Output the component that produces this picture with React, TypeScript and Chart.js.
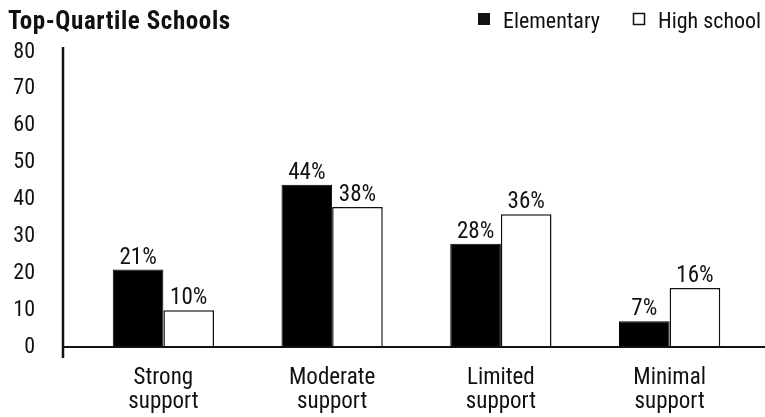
import React, { useEffect, useRef } from "react";
import { Chart, registerables } from "chart.js";

Chart.register(...registerables);

const categories: string[][] = [
  ["Strong", "support"],
  ["Moderate", "support"],
  ["Limited", "support"],
  ["Minimal", "support"],
];
const elementary: number[] = [21, 44, 28, 7];
const highSchool: number[] = [10, 38, 36, 16];
const yTicks: number[] = [0, 10, 20, 30, 40, 50, 60, 70, 80];
const chartTitle = "Top-Quartile Schools";
const seriesNames = ["Elementary", "High school"];

const FONT = '"Roboto Condensed", "DejaVu Sans Condensed", sans-serif';
const INK = "#111";

const decorPlugin = {
  id: "decor",
  afterDraw(chart: any) {
    const ctx = chart.ctx as CanvasRenderingContext2D;
    const y = chart.scales.y;
    const zeroY = y.getPixelForValue(0);
    const topY = y.getPixelForValue(80);
    ctx.save();
    // axis lines
    ctx.strokeStyle = INK;
    ctx.lineWidth = 2.5;
    ctx.beginPath();
    ctx.moveTo(63, topY - 5);
    ctx.lineTo(63, zeroY + 11);
    ctx.stroke();
    ctx.lineWidth = 2;
    ctx.beginPath();
    ctx.moveTo(63, zeroY);
    ctx.lineTo(chart.width, zeroY);
    ctx.stroke();

    // data labels
    ctx.fillStyle = INK;
    ctx.font = `23px ${FONT}`;
    ctx.textAlign = "center";
    ctx.textBaseline = "alphabetic";
    chart.data.datasets.forEach((ds: any, di: number) => {
      const meta = chart.getDatasetMeta(di);
      meta.data.forEach((bar: any, i: number) => {
        ctx.fillText(`${ds.data[i]}%`, bar.x, bar.y - 6);
      });
    });

    // title
    ctx.textAlign = "left";
    ctx.font = `bold 25px ${FONT}`;
    (ctx as any).letterSpacing = "0.6px";
    ctx.fillText(chartTitle, 8, 29);
    (ctx as any).letterSpacing = "0px";

    // legend
    ctx.font = `22px ${FONT}`;
    ctx.fillStyle = INK;
    ctx.fillRect(478, 13, 12, 12);
    ctx.fillText(seriesNames[0], 503, 28);
    ctx.fillStyle = "#fff";
    ctx.fillRect(633, 13, 12, 12);
    ctx.lineWidth = 1.5;
    ctx.strokeStyle = INK;
    ctx.strokeRect(633.5, 13.5, 11, 11);
    ctx.fillStyle = INK;
    ctx.fillText(seriesNames[1], 658, 28);
    ctx.restore();
  },
};

export default function App() {
  const ref = useRef<HTMLCanvasElement | null>(null);
  useEffect(() => {
    document.body.style.margin = "0";
    const chart = new Chart(ref.current!, {
      type: "bar",
      data: {
        labels: categories,
        datasets: [
          {
            label: seriesNames[0],
            data: elementary,
            backgroundColor: "#000",
            borderColor: "#000",
            borderWidth: 1,
            barPercentage: 1,
            categoryPercentage: 0.6,
          },
          {
            label: seriesNames[1],
            data: highSchool,
            backgroundColor: "#fff",
            borderColor: INK,
            borderWidth: 1.5,
            barPercentage: 1,
            categoryPercentage: 0.6,
          },
        ],
      },
      options: {
        animation: false,
        responsive: false,
        maintainAspectRatio: false,
        layout: { padding: { top: 52, right: 11, left: 0, bottom: 0 } },
        plugins: {
          legend: { display: false },
          title: { display: false },
          tooltip: { enabled: false },
        },
        scales: {
          x: {
            grid: { display: false },
            border: { display: false },
            ticks: {
              color: INK,
              font: { family: FONT, size: 23, lineHeight: 1.05 },
              padding: 11,
              maxRotation: 0,
            },
            afterFit: (s: any) => {
              s.height = 70;
            },
          },
          y: {
            min: 0,
            max: 80,
            grid: { display: false },
            border: { display: false },
            afterBuildTicks: (s: any) => {
              s.ticks = yTicks.map((v) => ({ value: v }));
            },
            ticks: {
              color: INK,
              font: { family: FONT, size: 22 },
              padding: 36,
            },
            afterFit: (s: any) => {
              s.width = 79;
            },
          },
        },
      },
      plugins: [decorPlugin],
    });
    return () => chart.destroy();
  }, []);
  return (
    <div style={{ width: 765, height: 417 }}>
      <canvas ref={ref} width={765} height={417} style={{ display: "block" }} />
    </div>
  );
}
